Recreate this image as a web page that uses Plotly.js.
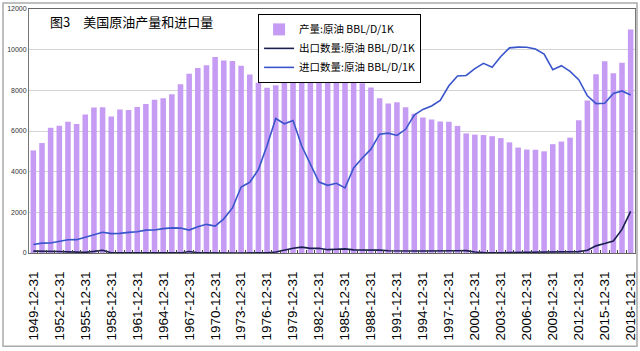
<!DOCTYPE html>
<html>
<head>
<meta charset="utf-8">
<script src="https://cdn.plot.ly/plotly-3.0.1.min.js"></script>
<style>html,body{margin:0;padding:0;background:#fff;}#chart{width:640px;height:351px;}</style>
</head>
<body>
<div id="chart"></div>
<script>
const years = [];
for (let y = 1949; y <= 2018; y++) years.push(y + '-12-31');

const production = [5046,5407,6158,6256,6458,6342,6807,7151,7170,6710,
  7054,7035,7183,7332,7542,7614,7804,8295,8810,9096,
  9238,9637,9463,9441,9208,8774,8375,8132,8245,8707,
  8552,8597,8572,8649,8688,8879,8971,8680,8349,8140,
  7613,7355,7417,7171,6847,6662,6560,6465,6452,6252,
  5881,5822,5801,5744,5649,5441,5184,5088,5077,5000,
  5353,5482,5674,6523,7494,8789,9431,8842,9358,10990];

const exportsArr = [91,95,79,73,55,37,32,78,137,11,
  7,8,9,5,5,4,3,4,73,5,
  4,14,1,1,2,3,6,8,50,158,
  235,287,228,236,164,181,204,154,151,155,
  142,109,116,89,98,99,95,110,108,110,
  118,50,20,9,12,27,32,25,27,29,
  44,42,47,67,134,351,465,591,1158,2048];

const importsArr = [421,487,491,573,648,656,782,934,1023,953,
  965,1015,1045,1126,1131,1198,1238,1225,1128,1290,
  1409,1324,1681,2216,3244,3477,4105,5287,6615,6356,
  6519,5263,4396,3488,3329,3426,3201,4178,4674,5107,
  5843,5894,5782,6083,6787,7063,7230,7508,8225,8706,
  8731,9071,9328,9140,9665,10088,10126,10118,10031,9783,
  9013,9213,8935,8527,7730,7344,7363,7850,7969,7768];

const seriesNames = ['产量:原油 BBL/D/1K','出口数量:原油 BBL/D/1K','进口数量:原油 BBL/D/1K'];
const titleText = '图3　美国原油产量和进口量';
const yTicks = [0,2000,4000,6000,8000,10000,12000];

const tickText = years.map((d, i) => (i % 3 === 0 ? d : ''));

const cjk = '"Liberation Sans", Arial, "Noto Sans CJK SC", sans-serif';

const data = [
  {type:'bar', x:years, y:production, name:seriesNames[0],
   marker:{color:'#C59BF4'}},
  {type:'scatter', mode:'lines', x:years, y:exportsArr, name:seriesNames[1],
   line:{color:'#1B1F4F', width:1.6}},
  {type:'scatter', mode:'lines', x:years, y:importsArr, name:seriesNames[2],
   line:{color:'#3A55CC', width:1.6}}
];

const layout = {
  width:640, height:351,
  margin:{l:29, r:5, t:9, b:97.5},
  paper_bgcolor:'#fff', plot_bgcolor:'#fff',
  bargap:0.36,
  showlegend:true,
  font:{family:cjk, color:'#000'},
  xaxis:{
    type:'category', tickmode:'array', tickvals:years, ticktext:tickText,
    tickangle:-90, tickfont:{size:13.5, color:'#000', family:'Arial, "Liberation Sans", sans-serif'},
    ticks:'inside', ticklen:3, tickcolor:'#444', tickson:'boundaries',
    ticklabelstandoff:12,
    showline:true, linecolor:'#666', linewidth:1, mirror:true,
    showgrid:false, zeroline:false
  },
  yaxis:{
    range:[0,12000], tickvals:yTicks, ticktext:yTicks.map(String),
    tickfont:{size:7, color:'#333'},
    showgrid:true, gridcolor:'#D4D4D4', gridwidth:1,
    showline:true, linecolor:'#777', linewidth:1, mirror:true,
    zeroline:false, ticks:''
  },
  legend:{
    x:0.378, y:0.98, xanchor:'left', yanchor:'top',
    bgcolor:'#fff', bordercolor:'#000', borderwidth:1,
    font:{size:10.5, family:'"Noto Sans CJK SC", sans-serif'},
    traceorder:'normal', tracegroupgap:0, itemwidth:30
  },
  annotations:[{
    xref:'paper', yref:'paper', x:0.031, y:0.947, xanchor:'left', yanchor:'middle',
    text:titleText, showarrow:false,
    font:{size:13, color:'#000', family:'"Noto Sans CJK SC", sans-serif'}
  }],
  shapes:[{
    type:'rect', xref:'paper', yref:'paper',
    x0:-0.0429, x1:1.0033, y0:-0.3824, y1:1.0245,
    line:{color:'#AAAAAA', width:1.5}, fillcolor:'rgba(0,0,0,0)', layer:'below'
  }]
};

Plotly.newPlot('chart', data, layout, {displayModeBar:false, staticPlot:true});
</script>
</body>
</html>
